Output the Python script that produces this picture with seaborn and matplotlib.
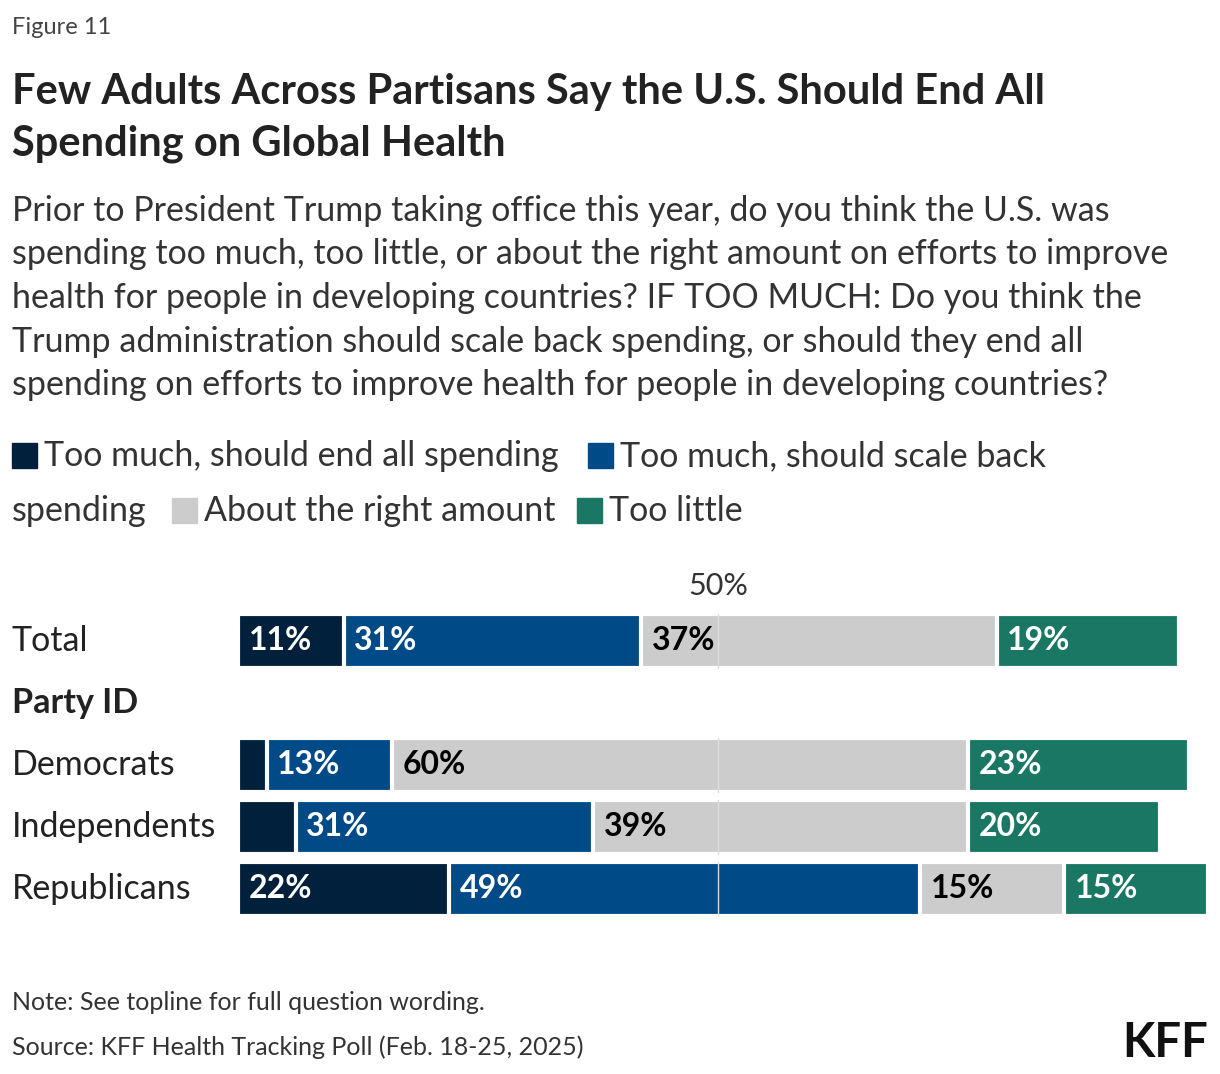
import matplotlib
matplotlib.use("Agg")
import matplotlib.pyplot as plt
import seaborn as sns
import pandas as pd
import numpy as np

sns.set_theme(style="white")
plt.rcParams['font.family'] = ['Lato', 'DejaVu Sans']

groups = ["Total", "Democrats", "Independents", "Republicans"]
end_all = [11, 3, 6, 22]
scale_back = [31, 13, 31, 49]
right_amt = [37, 60, 39, 15]
too_little = [19, 23, 20, 15]
series = ["Too much, should end all spending", "Too much, should scale back spending",
          "About the right amount", "Too little"]
colors = ["#00203b", "#004a87", "#cccccc", "#1a7763"]
txtcol = ["white", "white", "black", "white"]

rows = ["Total", "Party ID", "Democrats", "Independents", "Republicans"]
vals = np.array([end_all, scale_back, right_amt, too_little], dtype=float)
cum = np.cumsum(vals, axis=0)

fig = plt.figure(figsize=(12.2, 10.74), dpi=100)
ax = fig.add_axes([238/1220, 1 - 920/1074, 970/1220, (920-610)/1074])

for i in range(3, -1, -1):
    df = pd.DataFrame({"row": rows,
                       "v": [cum[i][0], 0, cum[i][1], cum[i][2], cum[i][3]]})
    sns.barplot(data=df, y="row", x="v", order=rows, orient="h", color=colors[i],
                saturation=1, width=0.88, edgecolor="white", linewidth=3, ax=ax)

for y in [0, 2, 3, 4]:
    ax.plot([50, 50], [y - 0.44, y + 0.44], color="#dddddd", lw=1, zorder=5)
ax.set_xlim(0, 101)
ax.set_ylim(4.5, -0.5)
ax.set_xlabel(""); ax.set_ylabel("")
ax.set_xticks([]); ax.set_yticks([])
for s in ax.spines.values():
    s.set_visible(False)
ax.text(50, -0.88, "50%", ha="center", va="center", fontsize=22, color="#333333")

ypos = {0: 0, 1: 2, 2: 3, 3: 4}
for g in range(4):
    y = ypos[g]
    start = 0
    for i in range(4):
        v = vals[i][g]
        if v >= 8:
            ax.text(start + 1.1, y, f"{int(v)}%", va="center", ha="left",
                    fontsize=23, fontweight="bold", color=txtcol[i], zorder=6)
        start += v

labels = {0: "Total", 1: "Party ID", 2: "Democrats", 3: "Independents", 4: "Republicans"}
for y, lab in labels.items():
    ax.text(-0.233, y, lab, transform=ax.get_yaxis_transform(), va="center", ha="left",
            fontsize=24.5, color="#222222", fontweight="bold" if lab == "Party ID" else "normal")

fig.text(12/1220, 1 - 27/1074, "Figure 11", fontsize=17, color="#444444", va="center")
fig.text(12/1220, 1 - 118/1074,
         "Few Adults Across Partisans Say the U.S. Should End All\nSpending on Global Health",
         fontsize=30, fontweight="bold", color="#222222", va="center", linespacing=1.45)
fig.text(12/1220, 1 - 298/1074,
         "Prior to President Trump taking office this year, do you think the U.S. was\n"
         "spending too much, too little, or about the right amount on efforts to improve\n"
         "health for people in developing countries? IF TOO MUCH: Do you think the\n"
         "Trump administration should scale back spending, or should they end all\n"
         "spending on efforts to improve health for people in developing countries?",
         fontsize=24.5, color="#333333", va="center", linespacing=1.45)

def leg(x, y, c, t):
    fig.patches.append(plt.Rectangle((x/1220, 1 - (y+12)/1074), 25/1220, 25/1074,
                                     color=c, transform=fig.transFigure))
    fig.text((x+32)/1220, 1 - y/1074, t, fontsize=24.5, color="#333333", va="center")
leg(12, 456, colors[0], "Too much, should end all spending")
leg(588, 456, colors[1], "Too much, should scale back")
fig.text(12/1220, 1 - 511/1074, "spending", fontsize=24.5, color="#333333", va="center")
leg(172, 511, colors[2], "About the right amount")
leg(577, 511, colors[3], "Too little")

fig.text(12/1220, 1 - 1003/1074, "Note: See topline for full question wording.",
         fontsize=18, color="#333333", va="center")
fig.text(12/1220, 1 - 1047/1074, "Source: KFF Health Tracking Poll (Feb. 18-25, 2025)",
         fontsize=18, color="#333333", va="center")
fig.text(1208/1220, 1 - 1043/1074, "KFF", fontsize=34, fontweight="bold",
         color="#111111", va="center", ha="right")

fig.savefig("out.png", dpi=100)
